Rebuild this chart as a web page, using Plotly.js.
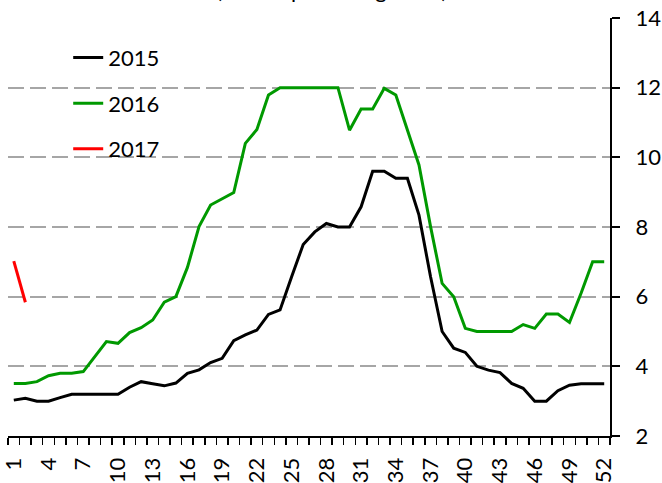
<!DOCTYPE html>
<html>
<head>
<meta charset="utf-8">
<script src="https://cdn.plot.ly/plotly-3.0.1.min.js"></script>
<style>html,body{margin:0;padding:0;background:#fff;}#chart{width:662px;height:483px;}</style>
</head>
<body>
<div id="chart"></div>
<script>
var weeks = [1,2,3,4,5,6,7,8,9,10,11,12,13,14,15,16,17,18,19,20,21,22,23,24,25,26,27,28,29,30,31,32,33,34,35,36,37,38,39,40,41,42,43,44,45,46,47,48,49,50,51,52];
var tickWeeks = [1,4,7,10,13,16,19,22,25,28,31,34,37,40,43,46,49,52];
var tickLabels = ["1","4","7","10","13","16","19","22","25","28","31","34","37","40","43","46","49","52"];
var yTicks = [2,4,6,8,10,12,14];

var y2015 = [3.03,3.08,3.0,3.0,3.1,3.2,3.2,3.2,3.2,3.2,3.4,3.56,3.5,3.44,3.52,3.8,3.9,4.11,4.23,4.74,4.9,5.04,5.49,5.62,6.57,7.5,7.86,8.1,8.0,8.0,8.58,9.6,9.6,9.4,9.4,8.34,6.57,5.0,4.52,4.4,4.0,3.89,3.82,3.51,3.37,3.0,3.0,3.3,3.46,3.5,3.5,3.5];
var y2016 = [3.51,3.51,3.56,3.73,3.8,3.8,3.85,4.28,4.71,4.66,4.97,5.11,5.33,5.84,6.0,6.84,8.01,8.63,8.8,8.99,10.4,10.8,11.79,12,12,12,12,12,12,10.78,11.39,11.39,11.98,11.79,10.78,9.78,8.01,6.38,6.0,5.09,5.0,5.0,5.0,5.0,5.2,5.09,5.5,5.5,5.26,6.1,7.0,7.0];
var y2017 = [7.02,5.84];

var seriesNames = ["2015","2016","2017"];
var seriesColors = ["#000000","#009900","#ff0000"];
var seriesValues = [y2015, y2016, y2017];

var titleText = "(annual percentage rate)";

var FONT = "Lato, 'Open Sans', sans-serif";

var traces = seriesValues.map(function(vals, i){
  return {
    x: weeks.slice(0, vals.length),
    y: vals,
    name: seriesNames[i],
    legendgroup: "g" + i,
    type: "scatter",
    mode: "lines",
    line: {color: seriesColors[i], width: 3},
    hoverinfo: "x+y+name"
  };
});

var layout = {
  width: 662,
  height: 483,
  margin: {l: 8, r: 52, t: 18, b: 47, pad: 0},
  paper_bgcolor: "#ffffff",
  plot_bgcolor: "#ffffff",
  font: {family: FONT, size: 22, color: "#000000"},
  annotations: [{
    text: titleText,
    xref: "paper", x: (331 - 8) / 602, xanchor: "center",
    yref: "paper", y: 1.03, yanchor: "bottom",
    showarrow: false,
    font: {family: FONT, size: 22, color: "#000000"}
  }],
  showlegend: true,
  legend: {
    x: 0.1, y: 0.955, xanchor: "left", yanchor: "top",
    bgcolor: "rgba(255,255,255,0)",
    font: {family: FONT, size: 22, color: "#000000"},
    tracegroupgap: 14,
    traceorder: "grouped"
  },
  xaxis: {
    type: "linear",
    range: [0.5, 52.5],
    tickmode: "array",
    tickvals: tickWeeks,
    ticktext: tickLabels,
    tickangle: -90,
    ticks: "outside",
    ticklen: 7,
    tickcolor: "rgba(0,0,0,0)",
    ticklabelstandoff: 4,
    ticklabeloverflow: "allow",
    showline: true,
    linecolor: "#000000",
    linewidth: 2,
    showgrid: false,
    zeroline: false,
    tickfont: {family: FONT, size: 22, color: "#000000"},
    minor: {ticks: "outside", ticklen: 7, tickwidth: 1.5, tickcolor: "#000000", tick0: 0.5, dtick: 1, showgrid: false}
  },
  yaxis: {
    side: "right",
    range: [2, 14],
    tickmode: "array",
    tickvals: yTicks,
    ticks: "outside",
    ticklen: 8,
    tickwidth: 2,
    tickcolor: "#000000",
    ticklabelstandoff: 11,
    ticklabeloverflow: "allow",
    showline: true,
    linecolor: "#000000",
    linewidth: 2,
    showgrid: true,
    gridcolor: "#a6a6a6",
    gridwidth: 2,
    griddash: "16px,6px",
    zeroline: false,
    tickfont: {family: FONT, size: 22, color: "#000000"}
  }
};

Plotly.newPlot("chart", traces, layout, {displayModeBar: false, staticPlot: true});
</script>
</body>
</html>
